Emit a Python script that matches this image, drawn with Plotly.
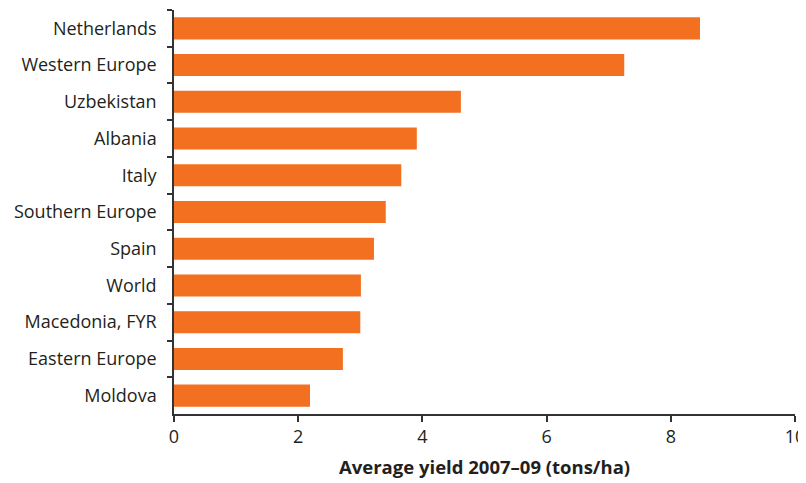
import plotly.graph_objects as go

categories = ["Netherlands", "Western Europe", "Uzbekistan", "Albania", "Italy",
              "Southern Europe", "Spain", "World", "Macedonia, FYR",
              "Eastern Europe", "Moldova"]
yields = [8.47, 7.25, 4.62, 3.91, 3.66, 3.41, 3.22, 3.01, 3.0, 2.72, 2.19]
x_ticks = [0, 2, 4, 6, 8, 10]
x_title = "Average yield 2007–09 (tons/ha)"

fig = go.Figure(go.Bar(
    x=yields, y=categories, orientation="h",
    marker=dict(color="#f37021", line=dict(width=0)),
    width=0.6,
))

# the page body adds an 8px margin, so the figure is sized to fit the window
fig.update_layout(
    width=798, height=475,
    margin=dict(l=166, r=11, t=2, b=69),
    plot_bgcolor="white", paper_bgcolor="white",
    font=dict(family="Open Sans", size=18, color="#231f20"),
    showlegend=False,
    xaxis=dict(
        range=[0, 10], tickvals=x_ticks, showgrid=False, zeroline=False,
        showline=True, linecolor="#333333", linewidth=1.5,
        ticks="outside", ticklen=6, tickcolor="#333333", tickwidth=1.5,
        tickfont=dict(size=18), automargin=False,
    ),
    yaxis=dict(
        categoryorder="array", categoryarray=categories,
        autorange="reversed", showgrid=False, zeroline=False,
        showline=True, linecolor="#333333", linewidth=1.5,
        ticks="outside", tickson="boundaries", ticklen=5,
        tickcolor="#333333", tickwidth=1.5,
        tickfont=dict(size=18), ticklabelstandoff=12, automargin=False,
    ),
    annotations=[dict(
        text="<b>" + x_title + "</b>", xref="paper", yref="paper",
        x=0.5, y=0, yshift=-52, xanchor="center", yanchor="middle",
        showarrow=False, font=dict(size=18.5, color="#231f20"),
    )],
)

fig.write_html("out.html")
